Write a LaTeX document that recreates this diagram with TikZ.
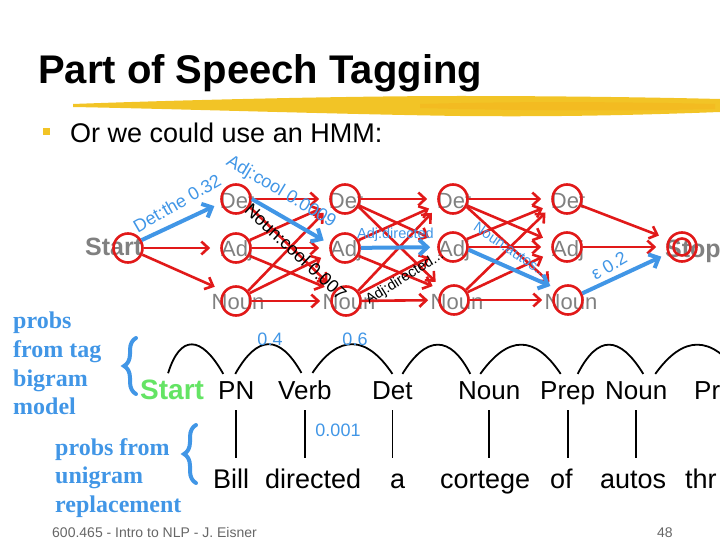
\documentclass[tikz,border=0pt]{standalone}
\usepackage{fontspec}
\setmainfont{Liberation Sans}
\newfontfamily\slabfont{Liberation Serif}
\usepackage{tikz}
\usetikzlibrary{arrows.meta, decorations.pathreplacing}
\definecolor{hmmred}{RGB}{225,25,25}
\definecolor{hmmblue}{RGB}{65,150,230}
\definecolor{tiegray}{RGB}{128,128,128}
\definecolor{startgreen}{RGB}{100,228,100}
\definecolor{brush}{RGB}{242,196,38}
\tikzset{
  state/.style={circle, draw=hmmred, line width=2.6pt, minimum size=29pt, inner sep=0pt},
  tagname/.style={anchor=base, inner sep=0pt, text=tiegray, font=\fontsize{22}{22}\selectfont},
  endname/.style={anchor=base west, inner sep=0pt, text=tiegray, font=\bfseries\fontsize{25}{25}\selectfont},
  arrow/.style={draw=hmmred, line width=2.6pt, -{Straight Barb[length=7pt,width=13pt]}, shorten >=10pt},
  bluearrow/.style={draw=hmmblue, line width=4pt, -{Straight Barb[length=8pt,width=15pt]}, shorten >=7pt},
  weight/.style={inner sep=0pt, font=\fontsize{18}{18}\selectfont},
  smallweight/.style={inner sep=0pt, font=\fontsize{14.5}{14.5}\selectfont},
  note/.style={anchor=base west, inner sep=0pt, text=hmmblue, font=\slabfont\bfseries\fontsize{24}{24}\selectfont},
  postag/.style={anchor=base west, inner sep=0pt, font=\fontsize{26}{26}\selectfont},
  word/.style={anchor=base west, inner sep=0pt, font=\fontsize{27}{27}\selectfont},
  hop/.style={draw, line width=1.8pt},
  link/.style={draw, line width=1.8pt, shorten <=11pt, shorten >=30pt},
  brace/.style={draw=hmmblue, line width=4pt, line cap=round, decorate, decoration={brace, amplitude=12pt}},
  footer/.style={anchor=base west, inner sep=0pt, text=black!60, font=\fontsize{14}{14}\selectfont}
}

\begin{document}
\begin{tikzpicture}[x=1pt, y=-1pt]
\useasboundingbox (0,0) rectangle (720,540);
\clip (0,0) rectangle (720,540);

% title and bullet
\node[anchor=base west, inner sep=0pt, font=\bfseries\fontsize{40}{40}\selectfont] (title) at (38,84) {Part of Speech Tagging};
\fill[brush] (73,104) .. controls (180,100) and (350,96) .. (460,96) .. controls (580,96) and (680,98) .. (720,99) -- (720,112) .. controls (640,115) and (560,117) .. (460,116) .. controls (330,114) and (180,109) .. (73,107) -- cycle;
\fill[brush!75!orange, opacity=0.5] (420,104) .. controls (520,101) and (640,102) .. (715,104) -- (715,109) .. controls (640,111) and (520,111) .. (420,108) -- cycle;
\fill[brush] (43,128) rectangle (50,135);
\node[anchor=base west, inner sep=0pt, font=\fontsize{27}{27}\selectfont] (bullet) at (70,143) {Or we could use an HMM:};

% trellis labels
\node[endname] (l-start) at (85,255) {Start};
\node[tagname] (l-d1) at (237,208) {Det};
\node[tagname] (l-a1) at (237,256) {Adj};
\node[tagname] (l-n1) at (238,309) {Noun};
\node[tagname] (l-d2) at (346,208) {Det};
\node[tagname] (l-a2) at (346,256) {Adj};
\node[tagname] (l-n2) at (349,309) {Noun};
\node[tagname] (l-d3) at (454,208) {Det};
\node[tagname] (l-a3) at (454,256) {Adj};
\node[tagname] (l-n3) at (457,309) {Noun};
\node[tagname] (l-d4) at (568,208) {Det};
\node[tagname] (l-a4) at (568,256) {Adj};
\node[tagname] (l-n4) at (571,309) {Noun};
\node[endname] (l-stop) at (665,257) {Stop};

% trellis states
\node[state] (start) at (128,248) {};
\node[state] (d1) at (236,199) {};
\node[state] (a1) at (236,248) {};
\node[state] (n1) at (236,301) {};
\node[state] (d2) at (345,199) {};
\node[state] (a2) at (345,248) {};
\node[state] (n2) at (346,301) {};
\node[state] (d3) at (453,199) {};
\node[state] (a3) at (453,247) {};
\node[state] (n3) at (454,300) {};
\node[state] (d4) at (567,199) {};
\node[state] (a4) at (567,247) {};
\node[state] (n4) at (568,300) {};
\node[state] (stop) at (682,247) {};
\node[state, minimum size=17pt] (stop-in) at (682,247) {};

% transitions
\draw[arrow] (start) -- (a1);
\draw[arrow] (start.-25) -- (n1.140);

\draw[arrow] (d1) -- (d2);
\draw[arrow] (d1.-30) -- (n2.135);
\draw[arrow] (a1.30) -- (d2.200);
\draw[arrow] (a1) -- (a2);
\draw[arrow] (a1.-30) -- (n2.140);
\draw[arrow] (n1.40) -- (d2.205);
\draw[arrow] (n1.30) -- (a2.200);
\draw[arrow] (n1) -- (n2);

\draw[arrow] (d2) -- (d3);
\draw[arrow] (d2.-25) -- (a3.160);
\draw[arrow] (d2.-30) -- (n3.135);
\draw[arrow] (a2.30) -- (d3.200);
\draw[arrow] (a2.-30) -- (n3.140);
\draw[arrow] (n2.40) -- (d3.205);
\draw[arrow] (n2.30) -- (a3.200);
\draw[arrow] (n2) -- (n3);

\draw[arrow] (d3) -- (d4);
\draw[arrow] (d3.-25) -- (a4.160);
\draw[arrow] (d3.-30) -- (n4.135);
\draw[arrow] (a3.30) -- (d4.200);
\draw[arrow] (a3) -- (a4);
\draw[arrow] (n3.40) -- (d4.205);
\draw[arrow] (n3.30) -- (a4.200);
\draw[arrow] (n3) -- (n4);

\draw[arrow] (d4.-25) -- (stop.150);
\draw[arrow] (a4) -- (stop);

% best path
\draw[bluearrow] (start.30) -- (d1.195);
\draw[bluearrow] (d1.east) -- (a2.165);
\draw[bluearrow] (a2) -- (a3);
\draw[bluearrow] (a3.-10) -- (n4.135);
\draw[bluearrow] (n4.25) -- (stop.205);

% arc labels
\node[weight, text=hmmblue, rotate=30] (w-the) at (177,203) {Det:the 0.32};
\node[weight, text=hmmblue, rotate=-31] (w-cool) at (281,192) {Adj:cool 0.0009};
\node[weight, rotate=-43] (w-ncool) at (296,252) {Noun:cool 0.007};
\node[smallweight, text=hmmblue, anchor=base west] (w-dir) at (357,238) {Adj:directed};
\node[smallweight, rotate=32] (w-adir) at (405,278) {Adj:directed...};
\node[smallweight, text=hmmblue, rotate=-34] (w-autos) at (511,250) {Noun:autos...};
\node[weight, text=hmmblue, rotate=30] (w-eps) at (609,266) {ε 0.2};

% tag bigram model
\node[note] (tb1) at (13,328) {probs};
\node[note] (tb2) at (13,357) {from tag};
\node[note] (tb3) at (13,386) {bigram};
\node[note] (tb4) at (13,414) {model};
\draw[brace] (136,394) -- (136,338);

\node[postag, text=startgreen, font=\bfseries\fontsize{28}{28}\selectfont] (s0) at (140,399) {Start};
\node[postag] (pn) at (218,399) {PN};
\node[postag] (vb) at (278,399) {Verb};
\node[postag] (dt) at (372,399) {Det};
\node[postag] (nn1) at (458,399) {Noun};
\node[postag] (pp) at (540,399) {Prep};
\node[postag] (nn2) at (605,399) {Noun};
\node[postag] (pr) at (694,399) {Pr};

\draw[hop] ([xshift=-4pt,yshift=6pt]s0.north) .. controls +(12,-39) and +(-22,-39) .. ([xshift=-13pt,yshift=7pt]pn.north);
\draw[hop] ([xshift=-1pt,yshift=7pt]pn.north) .. controls +(22,-39) and +(-22,-39) .. ([xshift=-3.5pt,yshift=7pt]vb.north);
\draw[hop] ([xshift=7.5pt,yshift=7pt]vb.north) .. controls +(26,-39) and +(-26,-39) .. ([yshift=7pt]dt.north);
\draw[hop] ([xshift=10pt,yshift=7pt]dt.north) .. controls +(24,-39) and +(-20,-39) .. ([xshift=-19pt,yshift=7pt]nn1.north);
\draw[hop] ([xshift=-9pt,yshift=7pt]nn1.north) .. controls +(28,-39) and +(-26,-39) .. ([xshift=-7pt,yshift=7pt]pp.north);
\draw[hop] ([xshift=10pt,yshift=7pt]pp.north) .. controls +(20,-39) and +(-24,-39) .. ([xshift=7pt,yshift=7pt]nn2.north);
\draw[hop] ([xshift=19pt,yshift=7pt]nn2.north) .. controls +(28,-39) and +(-28,-39) .. ([xshift=32pt,yshift=7pt]pr.north);

\node[weight, text=hmmblue] (p-04) at (270,339) {0.4};
\node[weight, text=hmmblue] (p-06) at (355,339) {0.6};

% unigram replacement
\node[note] (ur1) at (55,455) {probs from};
\node[note] (ur2) at (55,483) {unigram};
\node[note] (ur3) at (55,512) {replacement};
\draw[brace] (196,483) -- (196,425);

\node[word] (bill) at (213,488) {Bill};
\node[word] (directed) at (265,488) {directed};
\node[word] (a) at (390,488) {a};
\node[word] (cortege) at (440,488) {cortege};
\node[word] (of) at (550,488) {of};
\node[word] (autos) at (600,488) {autos};
\node[word] (thr) at (685,488) {thr};

\draw[link] (pn.base) -- (pn.base |- bill.base);
\draw[link] (vb.base) -- (vb.base |- directed.base);
\draw[link] (dt.base) -- (dt.base |- a.base);
\draw[link] (nn1.base) -- (nn1.base |- cortege.base);
\draw[link] (pp.base) -- (pp.base |- of.base);
\draw[link] (nn2.base) -- (nn2.base |- autos.base);

\node[weight, text=hmmblue] (p-001) at (338,430) {0.001};

% footer
\node[footer] (source) at (52,537) {600.465 - Intro to NLP - J. Eisner};
\node[footer] (page) at (657,537) {48};
\end{tikzpicture}
\end{document}
